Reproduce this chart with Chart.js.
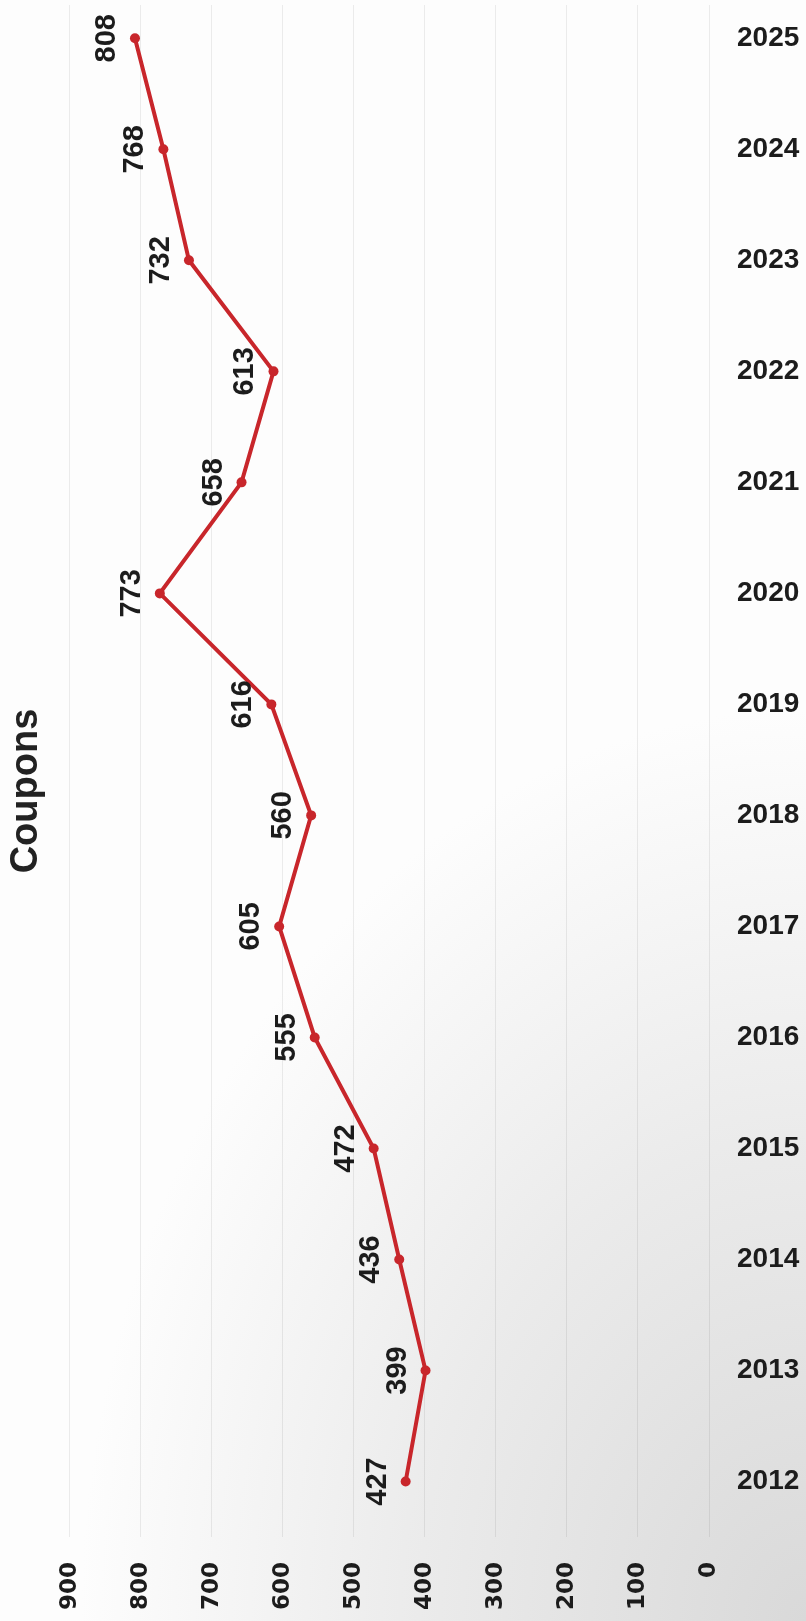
<!DOCTYPE html>
<html>
<head>
<meta charset="utf-8">
<script src="https://cdn.jsdelivr.net/npm/chart.js@4.4.1/dist/chart.umd.min.js"></script>
<style>
  html, body { margin: 0; padding: 0; }
  body {
    width: 806px;
    height: 1621px;
    overflow: hidden;
    background: radial-gradient(ellipse 120% 75% at 100% 100%, #d9d9d9 0%, #ebebeb 40%, #fdfdfd 75%);
  }
  canvas { display: block; }
</style>
</head>
<body>
<canvas id="couponsChart" width="806" height="1621"></canvas>
<script>
const years = [2012, 2013, 2014, 2015, 2016, 2017, 2018, 2019, 2020, 2021, 2022, 2023, 2024, 2025];
const coupons = [427, 399, 436, 472, 555, 605, 560, 616, 773, 658, 613, 732, 768, 808];
const valueTicks = [0, 100, 200, 300, 400, 500, 600, 700, 800, 900];

const LINE_RED = '#c8262b';
const TEXT = '#1c1c1c';

// valeur écrite à la verticale, à gauche de chaque point
const pointLabels = {
    id: 'pointLabels',
    afterDatasetsDraw(chart) {
        const ctx = chart.ctx;
        const meta = chart.getDatasetMeta(0);
        ctx.save();
        ctx.fillStyle = TEXT;
        ctx.font = 'bold 29px "Liberation Sans", Arial, sans-serif';
        ctx.textAlign = 'center';
        ctx.textBaseline = 'alphabetic';
        meta.data.forEach((pt, i) => {
            ctx.save();
            ctx.translate(pt.x - 20, pt.y);
            ctx.rotate(-Math.PI / 2);
            ctx.fillText(String(coupons[i]), 0, 0);
            ctx.restore();
        });
        ctx.restore();
    }
};

// remonte un peu le titre vertical
const titleShift = {
    id: 'titleShift',
    afterLayout(chart) {
        chart.titleBlock.bottom -= 30;
    }
};

document.addEventListener('DOMContentLoaded', () => {
    const ctx = document.getElementById('couponsChart').getContext('2d');
    new Chart(ctx, {
        type: 'line',
        data: {
            datasets: [{
                label: 'Coupons',
                data: years.map((y, i) => ({ x: coupons[i], y: y })),
                borderColor: LINE_RED,
                backgroundColor: LINE_RED,
                borderWidth: 4,
                pointRadius: 5,
                pointBackgroundColor: LINE_RED,
                pointBorderWidth: 0,
                tension: 0
            }]
        },
        options: {
            responsive: false,
            animation: false,
            indexAxis: 'y',
            layout: {
                padding: { left: 4, right: 0, top: 0, bottom: 9 }
            },
            plugins: {
                legend: { display: false },
                tooltip: { enabled: false },
                title: {
                    display: true,
                    text: 'Coupons',
                    position: 'left',
                    color: '#222',
                    font: { family: '"Liberation Sans", Arial, sans-serif', size: 38, weight: 'bold' },
                    padding: { top: 0, bottom: 20 }
                }
            },
            scales: {
                x: {
                    type: 'linear',
                    position: 'bottom',
                    reverse: true,
                    min: 0,
                    max: 900,
                    afterBuildTicks: scale => {
                        scale.ticks = valueTicks.map(v => ({ value: v }));
                    },
                    afterFit: scale => {
                        scale.height = 75;
                    },
                    grid: { color: 'rgba(0, 0, 0, 0.07)', drawTicks: false },
                    border: { display: false },
                    ticks: {
                        minRotation: 90,
                        maxRotation: 90,
                        padding: 25,
                        color: TEXT,
                        font: { family: '"DejaVu Sans", sans-serif', size: 23, weight: 'bold' }
                    }
                },
                y: {
                    type: 'linear',
                    position: 'right',
                    min: 2011.5,
                    max: 2025.3,
                    afterBuildTicks: scale => {
                        scale.ticks = years.map(v => ({ value: v }));
                    },
                    afterFit: scale => {
                        scale.width = 97;
                        scale.paddingTop = 0;
                        scale.paddingBottom = 0;
                    },
                    grid: { display: false, drawTicks: false },
                    border: { display: false },
                    ticks: {
                        padding: 28,
                        color: TEXT,
                        callback: v => String(v),
                        font: { family: '"Liberation Sans", Arial, sans-serif', size: 28, weight: 'bold' }
                    }
                }
            }
        },
        plugins: [pointLabels, titleShift]
    });
});
</script>
</body>
</html>
